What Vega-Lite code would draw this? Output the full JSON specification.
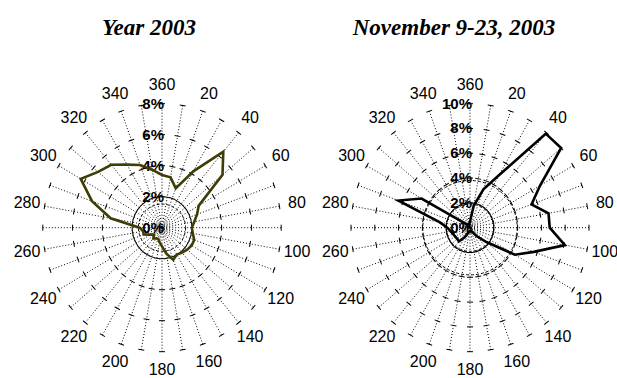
{
  "$schema": "https://vega.github.io/schema/vega-lite/v6.json",
  "autosize": "pad",
  "padding": {"left": 13, "top": 17, "right": 0, "bottom": 0},
  "bounds": "flush",
  "spacing": 12,
  "config": {"view": {"stroke": null}, "font": "Liberation Sans"},
  "datasets": {
    "spokes": [{"dir":0},{"dir":10},{"dir":20},{"dir":30},{"dir":40},{"dir":50},{"dir":60},{"dir":70},{"dir":80},{"dir":90},{"dir":100},{"dir":110},{"dir":120},{"dir":130},{"dir":140},{"dir":150},{"dir":160},{"dir":170},{"dir":180},{"dir":190},{"dir":200},{"dir":210},{"dir":220},{"dir":230},{"dir":240},{"dir":250},{"dir":260},{"dir":270},{"dir":280},{"dir":290},{"dir":300},{"dir":310},{"dir":320},{"dir":330},{"dir":340},{"dir":350}],
    "dirlabels": [{"dir":0,"label":"360"},{"dir":20,"label":"20"},{"dir":40,"label":"40"},{"dir":60,"label":"60"},{"dir":80,"label":"80"},{"dir":100,"label":"100"},{"dir":120,"label":"120"},{"dir":140,"label":"140"},{"dir":160,"label":"160"},{"dir":180,"label":"180"},{"dir":200,"label":"200"},{"dir":220,"label":"220"},{"dir":240,"label":"240"},{"dir":260,"label":"260"},{"dir":280,"label":"280"},{"dir":300,"label":"300"},{"dir":320,"label":"320"},{"dir":340,"label":"340"}],
    "year2003": [{"dir":0,"pct":3.4},{"dir":10,"pct":3.3},{"dir":20,"pct":2.7},{"dir":30,"pct":4.2},{"dir":40,"pct":6.4},{"dir":50,"pct":5.3},{"dir":60,"pct":2.85},{"dir":70,"pct":2.5},{"dir":80,"pct":2.2},{"dir":90,"pct":2.0},{"dir":100,"pct":2.1},{"dir":110,"pct":2.3},{"dir":120,"pct":2.3},{"dir":130,"pct":2.2},{"dir":140,"pct":2.1},{"dir":150,"pct":2.0},{"dir":160,"pct":2.2},{"dir":170,"pct":1.7},{"dir":180,"pct":1.2},{"dir":190,"pct":0.95},{"dir":200,"pct":0.75},{"dir":210,"pct":0.8},{"dir":220,"pct":0.9},{"dir":230,"pct":0.7},{"dir":240,"pct":0.9},{"dir":250,"pct":1.3},{"dir":260,"pct":1.3},{"dir":270,"pct":1.5},{"dir":280,"pct":3.5},{"dir":290,"pct":5.0},{"dir":300,"pct":6.3},{"dir":310,"pct":5.6},{"dir":320,"pct":5.3},{"dir":330,"pct":4.7},{"dir":340,"pct":4.3},{"dir":350,"pct":3.8}],
    "nov2003": [{"dir":0,"pct":0.5},{"dir":10,"pct":1.8},{"dir":20,"pct":3.3},{"dir":30,"pct":4.9},{"dir":40,"pct":9.9},{"dir":50,"pct":10.0},{"dir":60,"pct":6.8},{"dir":70,"pct":5.5},{"dir":80,"pct":6.7},{"dir":90,"pct":6.7},{"dir":100,"pct":8.1},{"dir":110,"pct":5.7},{"dir":120,"pct":4.35},{"dir":130,"pct":1.8},{"dir":140,"pct":0.9},{"dir":150,"pct":0.4},{"dir":160,"pct":0.3},{"dir":170,"pct":0.3},{"dir":180,"pct":0.3},{"dir":190,"pct":0.3},{"dir":200,"pct":0.4},{"dir":210,"pct":0.9},{"dir":220,"pct":1.45},{"dir":230,"pct":1.4},{"dir":240,"pct":1.43},{"dir":250,"pct":1.5},{"dir":260,"pct":1.65},{"dir":270,"pct":1.9},{"dir":280,"pct":2.6},{"dir":290,"pct":6.4},{"dir":300,"pct":4.7},{"dir":310,"pct":0.5},{"dir":320,"pct":0.3},{"dir":330,"pct":0.2},{"dir":340,"pct":0.2},{"dir":350,"pct":0.3}]
  },
  "hconcat": [
    {
      "width": 296, "height": 328,
      "title": {"text": "Year 2003", "font": "Liberation Serif", "fontSize": 23, "fontStyle": "italic", "fontWeight": "bold", "color": "black", "anchor": "middle", "frame": "group", "dx": -13, "dy": 21, "offset": 15, "baseline": "alphabetic"},
      "layer": [
        {
          "data": {"name": "spokes"},
          "transform": [{"calculate": "8*sin(datum.dir*PI/180)", "as": "xe"}, {"calculate": "8*cos(datum.dir*PI/180)", "as": "ye"}],
          "mark": {"type": "rule", "color": "black", "strokeWidth": 1, "strokeDash": [1, 2]},
          "encoding": {
            "x": {"field": "xe", "type": "quantitative", "scale": {"domain": [-9.933, 9.933], "nice": false, "zero": false}, "axis": null},
            "y": {"field": "ye", "type": "quantitative", "scale": {"domain": [-9.826, 11.335], "nice": false, "zero": false}, "axis": null},
            "x2": {"datum": 0}, "y2": {"datum": 0}
          }
        },
        {
          "data": {"name": "spokes"},
          "transform": [{"calculate": "[2,4,6,8]", "as": "lvl"}, {"flatten": ["lvl"]}, {"calculate": "datum.lvl*sin(datum.dir*PI/180)", "as": "xt"}, {"calculate": "datum.lvl*cos(datum.dir*PI/180)", "as": "yt"}],
          "mark": {"type": "point", "shape": "M-1,0L1,0", "size": 36, "filled": false, "stroke": "black", "strokeWidth": 1, "opacity": 1},
          "encoding": {
            "x": {"field": "xt", "type": "quantitative", "scale": {"domain": [-9.933, 9.933], "nice": false, "zero": false}, "axis": null},
            "y": {"field": "yt", "type": "quantitative", "scale": {"domain": [-9.826, 11.335], "nice": false, "zero": false}, "axis": null},
            "angle": {"field": "dir", "type": "quantitative", "scale": null}
          }
        },
        {
          "data": {"values": [{"r": 2}]},
          "mark": {"type": "point", "shape": "circle", "filled": false, "stroke": "black", "strokeWidth": 1, "strokeDash": [3, 2], "opacity": 1},
          "encoding": {
            "x": {"datum": 0, "type": "quantitative", "scale": {"domain": [-9.933, 9.933], "nice": false, "zero": false}, "axis": null},
            "y": {"datum": 0, "type": "quantitative", "scale": {"domain": [-9.826, 11.335], "nice": false, "zero": false}, "axis": null},
            "size": {"field": "r", "type": "quantitative", "scale": {"type": "pow", "exponent": 2, "domain": [0, 8], "range": [0, 55696]}, "legend": null}
          }
        },
        {
          "data": {"values": [{"lvl": 0, "label": "0%"}, {"lvl": 2, "label": "2%"}, {"lvl": 4, "label": "4%"}, {"lvl": 6, "label": "6%"}, {"lvl": 8, "label": "8%"}]},
          "mark": {"type": "text", "align": "right", "baseline": "middle", "dx": 2, "fontSize": 15, "fontWeight": "bold", "font": "Liberation Sans", "color": "black"},
          "encoding": {
            "x": {"datum": 0, "type": "quantitative", "scale": {"domain": [-9.933, 9.933], "nice": false, "zero": false}, "axis": null},
            "y": {"field": "lvl", "type": "quantitative", "scale": {"domain": [-9.826, 11.335], "nice": false, "zero": false}, "axis": null},
            "text": {"field": "label"}
          }
        },
        {
          "data": {"name": "dirlabels"},
          "transform": [{"calculate": "9.2*sin(datum.dir*PI/180)", "as": "xl"}, {"calculate": "9.2*cos(datum.dir*PI/180)", "as": "yl"}],
          "mark": {"type": "text", "align": "center", "baseline": "middle", "fontSize": 16, "font": "Liberation Sans", "color": "black"},
          "encoding": {
            "x": {"field": "xl", "type": "quantitative", "scale": {"domain": [-9.933, 9.933], "nice": false, "zero": false}, "axis": null},
            "y": {"field": "yl", "type": "quantitative", "scale": {"domain": [-9.826, 11.335], "nice": false, "zero": false}, "axis": null},
            "text": {"field": "label"}
          }
        },
        {
          "data": {"name": "year2003"},
          "transform": [{"calculate": "datum.pct*sin(datum.dir*PI/180)", "as": "xp"}, {"calculate": "datum.pct*cos(datum.dir*PI/180)", "as": "yp"}],
          "mark": {"type": "line", "interpolate": "linear-closed", "color": "#3d3d05", "strokeWidth": 2.6},
          "encoding": {
            "x": {"field": "xp", "type": "quantitative", "scale": {"domain": [-9.933, 9.933], "nice": false, "zero": false}, "axis": null},
            "y": {"field": "yp", "type": "quantitative", "scale": {"domain": [-9.826, 11.335], "nice": false, "zero": false}, "axis": null},
            "order": {"field": "dir", "type": "quantitative"}
          }
        }
      ]
    },
    {
      "width": 296, "height": 328,
      "title": {"text": "November 9-23, 2003", "font": "Liberation Serif", "fontSize": 23, "fontStyle": "italic", "fontWeight": "bold", "color": "black", "anchor": "middle", "frame": "group", "dx": -16, "dy": 21, "offset": 15, "baseline": "alphabetic"},
      "layer": [
        {
          "data": {"name": "spokes"},
          "transform": [{"calculate": "10*sin(datum.dir*PI/180)", "as": "xe"}, {"calculate": "10*cos(datum.dir*PI/180)", "as": "ye"}],
          "mark": {"type": "rule", "color": "black", "strokeWidth": 1, "strokeDash": [1, 2]},
          "encoding": {
            "x": {"field": "xe", "type": "quantitative", "scale": {"domain": [-12.437, 12.437], "nice": false, "zero": false}, "axis": null},
            "y": {"field": "ye", "type": "quantitative", "scale": {"domain": [-12.282, 14.169], "nice": false, "zero": false}, "axis": null},
            "x2": {"datum": 0}, "y2": {"datum": 0}
          }
        },
        {
          "data": {"name": "spokes"},
          "transform": [{"calculate": "[2,4,6,8,10]", "as": "lvl"}, {"flatten": ["lvl"]}, {"calculate": "datum.lvl*sin(datum.dir*PI/180)", "as": "xt"}, {"calculate": "datum.lvl*cos(datum.dir*PI/180)", "as": "yt"}],
          "mark": {"type": "point", "shape": "M-1,0L1,0", "size": 36, "filled": false, "stroke": "black", "strokeWidth": 1, "opacity": 1},
          "encoding": {
            "x": {"field": "xt", "type": "quantitative", "scale": {"domain": [-12.437, 12.437], "nice": false, "zero": false}, "axis": null},
            "y": {"field": "yt", "type": "quantitative", "scale": {"domain": [-12.282, 14.169], "nice": false, "zero": false}, "axis": null},
            "angle": {"field": "dir", "type": "quantitative", "scale": null}
          }
        },
        {
          "data": {"values": [{"r": 2}, {"r": 4}]},
          "mark": {"type": "point", "shape": "circle", "filled": false, "stroke": "black", "strokeWidth": 1, "strokeDash": [3, 2], "opacity": 1},
          "encoding": {
            "x": {"datum": 0, "type": "quantitative", "scale": {"domain": [-12.437, 12.437], "nice": false, "zero": false}, "axis": null},
            "y": {"datum": 0, "type": "quantitative", "scale": {"domain": [-12.282, 14.169], "nice": false, "zero": false}, "axis": null},
            "size": {"field": "r", "type": "quantitative", "scale": {"type": "pow", "exponent": 2, "domain": [0, 10], "range": [0, 56644]}, "legend": null}
          }
        },
        {
          "data": {"values": [{"lvl": 0, "label": "0%"}, {"lvl": 2, "label": "2%"}, {"lvl": 4, "label": "4%"}, {"lvl": 6, "label": "6%"}, {"lvl": 8, "label": "8%"}, {"lvl": 10, "label": "10%"}]},
          "mark": {"type": "text", "align": "right", "baseline": "middle", "dx": 2, "fontSize": 15, "fontWeight": "bold", "font": "Liberation Sans", "color": "black"},
          "encoding": {
            "x": {"datum": 0, "type": "quantitative", "scale": {"domain": [-12.437, 12.437], "nice": false, "zero": false}, "axis": null},
            "y": {"field": "lvl", "type": "quantitative", "scale": {"domain": [-12.282, 14.169], "nice": false, "zero": false}, "axis": null},
            "text": {"field": "label"}
          }
        },
        {
          "data": {"name": "dirlabels"},
          "transform": [{"calculate": "11.5*sin(datum.dir*PI/180)", "as": "xl"}, {"calculate": "11.5*cos(datum.dir*PI/180)", "as": "yl"}],
          "mark": {"type": "text", "align": "center", "baseline": "middle", "fontSize": 16, "font": "Liberation Sans", "color": "black"},
          "encoding": {
            "x": {"field": "xl", "type": "quantitative", "scale": {"domain": [-12.437, 12.437], "nice": false, "zero": false}, "axis": null},
            "y": {"field": "yl", "type": "quantitative", "scale": {"domain": [-12.282, 14.169], "nice": false, "zero": false}, "axis": null},
            "text": {"field": "label"}
          }
        },
        {
          "data": {"name": "nov2003"},
          "transform": [{"calculate": "datum.pct*sin(datum.dir*PI/180)", "as": "xp"}, {"calculate": "datum.pct*cos(datum.dir*PI/180)", "as": "yp"}],
          "mark": {"type": "line", "interpolate": "linear-closed", "color": "black", "strokeWidth": 2.6},
          "encoding": {
            "x": {"field": "xp", "type": "quantitative", "scale": {"domain": [-12.437, 12.437], "nice": false, "zero": false}, "axis": null},
            "y": {"field": "yp", "type": "quantitative", "scale": {"domain": [-12.282, 14.169], "nice": false, "zero": false}, "axis": null},
            "order": {"field": "dir", "type": "quantitative"}
          }
        }
      ]
    }
  ]
}
